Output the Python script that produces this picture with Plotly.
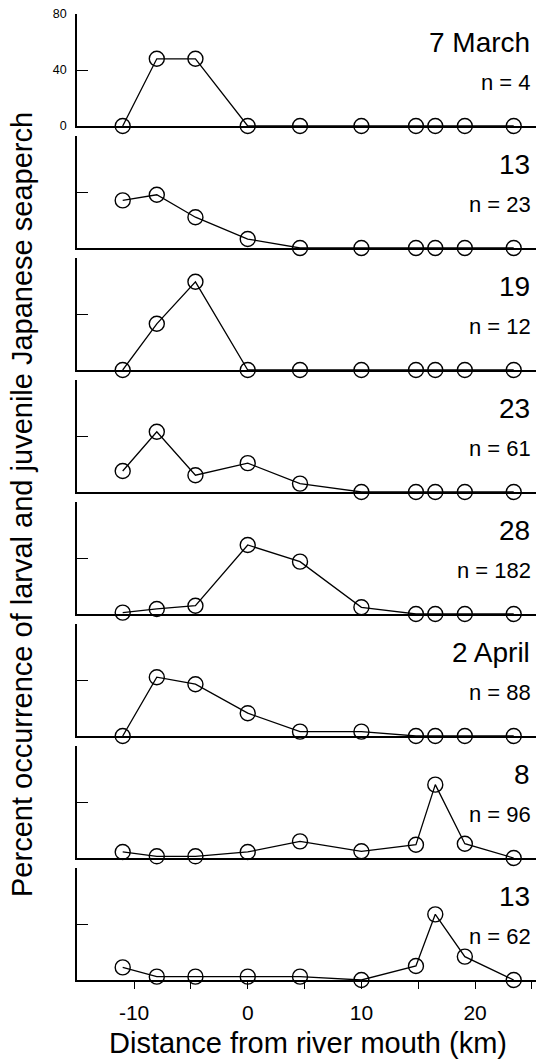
import plotly.graph_objects as go

# ---- data ----
distance_km = [-11, -8, -4.6, 0, 4.6, 10, 14.8, 16.5, 19.1, 23.4]
date_labels = ["7 March", "13", "19", "23", "28", "2 April", "8", "13"]
sample_n = [4, 23, 12, 61, 182, 88, 96, 62]

pct_07mar = [0, 48, 48, 0, 0, 0, 0, 0, 0, 0]
pct_13mar = [34, 38, 22, 6.4, 0, 0, 0, 0, 0, 0]
pct_19mar = [0, 33, 63, 0, 0, 0, 0, 0, 0, 0]
pct_23mar = [15, 43, 12, 20.6, 6, 0, 0, 0, 0, 0]
pct_28mar = [1, 3.6, 5.9, 49.3, 37.4, 4.8, 0, 0, 0, 0]
pct_02apr = [0, 42, 37, 16.3, 3.1, 3.1, 0, 0, 0, 0]
pct_08apr = [4.3, 1.2, 1.2, 4.3, 11.9, 4.8, 9.5, 52.4, 10.2, 0]
pct_13apr = [9, 2.4, 2.4, 2.4, 2.4, 0, 10, 46.9, 16.7, 0]

series = [pct_07mar, pct_13mar, pct_19mar, pct_23mar,
          pct_28mar, pct_02apr, pct_08apr, pct_13apr]

x_tickvals = [-10, -5, 0, 5, 10, 15, 20, 25]
x_ticktext = ["-10", "", "0", "", "10", "", "20", ""]
y_tickvals = [0, 40, 80]
y_ticktext = ["0", "40", "80"]

# ---- layout geometry (pixels) ----
W, H = 536, 1063
M_L, M_R, M_T, M_B = 77, 0, 14, 83
PLOT_H = H - M_T - M_B          # 966
PANEL_H, PITCH = 112, 122
FONT = "Liberation Sans, Arial, sans-serif"

fig = go.Figure()
layout = dict(
    width=W, height=H,
    margin=dict(l=M_L, r=M_R, t=M_T, b=M_B),
    paper_bgcolor="white", plot_bgcolor="white",
    showlegend=False,
    font=dict(family=FONT, color="black"),
)

annotations = []
n_panels = len(series)
for k, vals in enumerate(series):
    idx = "" if k == 0 else str(k + 1)
    top_px = M_T + PITCH * k
    bot_px = top_px + PANEL_H
    y0 = (H - M_B - bot_px) / PLOT_H
    y1 = (H - M_B - top_px) / PLOT_H
    last = (k == n_panels - 1)

    fig.add_trace(go.Scatter(
        x=distance_km, y=vals, mode="lines+markers",
        xaxis="x" + idx, yaxis="y" + idx,
        line=dict(color="black", width=1.3),
        marker=dict(symbol="circle-open", size=15, color="black",
                    line=dict(width=1.4, color="black")),
        cliponaxis=False, hoverinfo="skip",
    ))

    layout["xaxis" + idx] = dict(
        domain=[0, 1], anchor="y" + idx, range=[-15.02, 25.36],
        showline=True, linecolor="black", linewidth=1.8,
        showgrid=False, zeroline=False,
        ticks="outside" if last else "", ticklen=7, tickwidth=1.3,
        tickcolor="black",
        tickvals=x_tickvals, ticktext=x_ticktext,
        showticklabels=last,
        tickfont=dict(size=21, family=FONT, color="black"),
        ticklabelstandoff=6,
        fixedrange=True,
    )
    layout["yaxis" + idx] = dict(
        domain=[y0, y1], anchor="x" + idx, range=[0, 80],
        showline=True, linecolor="black", linewidth=1.8,
        showgrid=False, zeroline=False,
        ticks="inside", ticklen=11, tickwidth=1.3, tickcolor="black",
        tickvals=y_tickvals, ticktext=y_ticktext,
        showticklabels=(k == 0),
        tickfont=dict(size=12.5, family=FONT, color="black"),
        ticklabelstandoff=6,
        fixedrange=True,
    )

    annotations.append(dict(
        text=date_labels[k], xref="paper", yref="y" + idx,
        x=(532 - M_L) / (W - M_L - M_R), y=59.6,
        xanchor="right", yanchor="middle", showarrow=False,
        font=dict(size=28, family=FONT, color="black"),
    ))
    annotations.append(dict(
        text="n = %d" % sample_n[k], xref="paper", yref="y" + idx,
        x=(533 - M_L) / (W - M_L - M_R), y=31,
        xanchor="right", yanchor="middle", showarrow=False,
        font=dict(size=22, family=FONT, color="black"),
    ))

annotations.append(dict(
    text="Distance from river mouth (km)", xref="paper", yref="paper",
    x=(307.5 - M_L) / (W - M_L - M_R), y=(H - M_B - 1043) / PLOT_H,
    xanchor="center", yanchor="middle", showarrow=False,
    font=dict(size=29, family=FONT, color="black"),
))
annotations.append(dict(
    text="Percent occurrence of larval and juvenile Japanese seaperch",
    xref="paper", yref="paper", textangle=-90,
    x=(22 - M_L) / (W - M_L - M_R), y=(H - M_B - 505) / PLOT_H,
    xanchor="center", yanchor="middle", showarrow=False,
    font=dict(size=29, family=FONT, color="black"),
))
layout["annotations"] = annotations

fig.update_layout(**layout)
fig.write_html(
    "out.html",
    config={"displayModeBar": False},
    post_script="document.body.style.margin='0';document.body.style.overflow='hidden';",
)
